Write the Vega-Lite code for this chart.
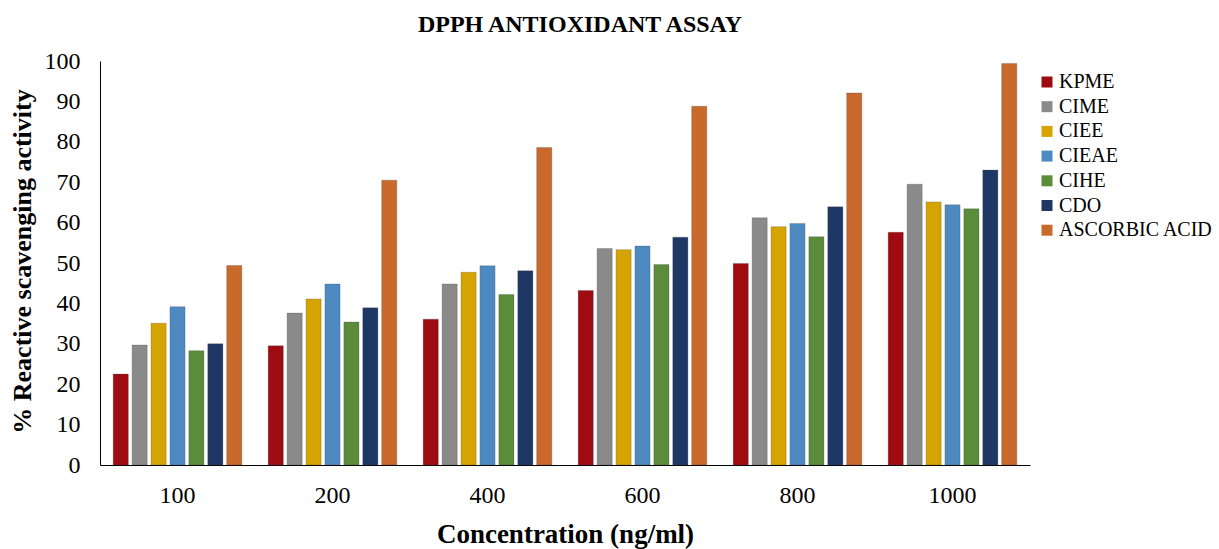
{
  "$schema": "https://vega.github.io/schema/vega-lite/v6.json",
  "autosize": {"type": "none"},
  "width": 930,
  "height": 404,
  "padding": {"left": 100, "top": 61, "right": 189, "bottom": 84},
  "background": "white",
  "config": {"view": {"stroke": null}},
  "title": {
    "text": "DPPH ANTIOXIDANT ASSAY",
    "font": "Liberation Serif",
    "fontSize": 24,
    "fontWeight": "bold",
    "color": "black",
    "anchor": "middle",
    "offset": 12,
    "dx": 15
  },
  "data": {
    "values": [
      {"conc": "100", "sample": "KPME", "value": 22.5},
      {"conc": "100", "sample": "CIME", "value": 29.7},
      {"conc": "100", "sample": "CIEE", "value": 35.1},
      {"conc": "100", "sample": "CIEAE", "value": 39.2},
      {"conc": "100", "sample": "CIHE", "value": 28.3},
      {"conc": "100", "sample": "CDO", "value": 30.0},
      {"conc": "100", "sample": "ASCORBIC ACID", "value": 49.4},
      {"conc": "200", "sample": "KPME", "value": 29.5},
      {"conc": "200", "sample": "CIME", "value": 37.6},
      {"conc": "200", "sample": "CIEE", "value": 41.1},
      {"conc": "200", "sample": "CIEAE", "value": 44.8},
      {"conc": "200", "sample": "CIHE", "value": 35.4},
      {"conc": "200", "sample": "CDO", "value": 38.9},
      {"conc": "200", "sample": "ASCORBIC ACID", "value": 70.5},
      {"conc": "400", "sample": "KPME", "value": 36.1},
      {"conc": "400", "sample": "CIME", "value": 44.8},
      {"conc": "400", "sample": "CIEE", "value": 47.7},
      {"conc": "400", "sample": "CIEAE", "value": 49.3},
      {"conc": "400", "sample": "CIHE", "value": 42.2},
      {"conc": "400", "sample": "CDO", "value": 48.1},
      {"conc": "400", "sample": "ASCORBIC ACID", "value": 78.6},
      {"conc": "600", "sample": "KPME", "value": 43.2},
      {"conc": "600", "sample": "CIME", "value": 53.6},
      {"conc": "600", "sample": "CIEE", "value": 53.3},
      {"conc": "600", "sample": "CIEAE", "value": 54.2},
      {"conc": "600", "sample": "CIHE", "value": 49.6},
      {"conc": "600", "sample": "CDO", "value": 56.4},
      {"conc": "600", "sample": "ASCORBIC ACID", "value": 88.8},
      {"conc": "800", "sample": "KPME", "value": 49.9},
      {"conc": "800", "sample": "CIME", "value": 61.2},
      {"conc": "800", "sample": "CIEE", "value": 59.0},
      {"conc": "800", "sample": "CIEAE", "value": 59.8},
      {"conc": "800", "sample": "CIHE", "value": 56.5},
      {"conc": "800", "sample": "CDO", "value": 63.9},
      {"conc": "800", "sample": "ASCORBIC ACID", "value": 92.1},
      {"conc": "1000", "sample": "KPME", "value": 57.6},
      {"conc": "1000", "sample": "CIME", "value": 69.5},
      {"conc": "1000", "sample": "CIEE", "value": 65.1},
      {"conc": "1000", "sample": "CIEAE", "value": 64.4},
      {"conc": "1000", "sample": "CIHE", "value": 63.4},
      {"conc": "1000", "sample": "CDO", "value": 73.0},
      {"conc": "1000", "sample": "ASCORBIC ACID", "value": 99.4}
    ]
  },
  "mark": {"type": "bar", "stroke": "#444444", "strokeWidth": 0.5, "strokeOpacity": 0.5},
  "encoding": {
    "x": {
      "field": "conc",
      "type": "nominal",
      "sort": ["100", "200", "400", "600", "800", "1000"],
      "scale": {"paddingInner": 0.17, "paddingOuter": 0.085},
      "axis": {
        "title": "Concentration (ng/ml)",
        "titleFont": "Liberation Serif",
        "titleFontSize": 27,
        "titleFontWeight": "bold",
        "titleColor": "black",
        "titlePadding": 14,
        "labelFont": "Liberation Serif",
        "labelFontSize": 24,
        "labelColor": "black",
        "labelAngle": 0,
        "labelPadding": 18,
        "ticks": false,
        "domainColor": "black",
        "domainWidth": 1
      }
    },
    "xOffset": {
      "field": "sample",
      "type": "nominal",
      "sort": ["KPME", "CIME", "CIEE", "CIEAE", "CIHE", "CDO", "ASCORBIC ACID"],
      "scale": {"paddingInner": 0.2}
    },
    "y": {
      "field": "value",
      "type": "quantitative",
      "scale": {"domain": [0, 100], "nice": false},
      "axis": {
        "title": "% Reactive scavenging activity",
        "titleFont": "Liberation Serif",
        "titleFontSize": 26,
        "titleFontWeight": "bold",
        "titleColor": "black",
        "titlePadding": 9,
        "titleY": 200,
        "labelFont": "Liberation Serif",
        "labelFontSize": 24,
        "labelColor": "black",
        "labelPadding": 20,
        "labelOverlap": false,
        "values": [0, 10, 20, 30, 40, 50, 60, 70, 80, 90, 100],
        "grid": false,
        "ticks": false,
        "domainColor": "black",
        "domainWidth": 1
      }
    },
    "color": {
      "field": "sample",
      "type": "nominal",
      "scale": {
        "domain": ["KPME", "CIME", "CIEE", "CIEAE", "CIHE", "CDO", "ASCORBIC ACID"],
        "range": ["#9e0b10", "#8a8a8a", "#d6a400", "#4e8ac2", "#5a8c3a", "#1f3764", "#c9692c"]
      },
      "legend": {
        "title": null,
        "orient": "none",
        "legendX": 937,
        "legendY": 11,
        "symbolType": "square",
        "symbolSize": 121,
        "symbolStrokeWidth": 0,
        "labelFont": "Liberation Serif",
        "labelFontSize": 20,
        "labelColor": "black",
        "labelOffset": 2,
        "rowPadding": 4.7,
        "labelLimit": 200
      }
    }
  }
}
